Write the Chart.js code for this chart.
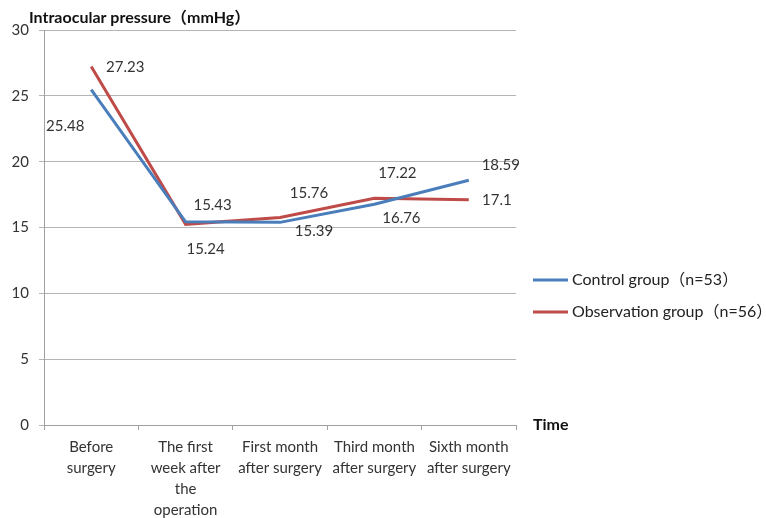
<!DOCTYPE html>
<html>
<head>
<meta charset="utf-8">
<script src="https://cdn.jsdelivr.net/npm/chart.js@4.4.1/dist/chart.umd.min.js"></script>
<style>
  html, body { margin: 0; padding: 0; background: #fff; }
  #wrap { width: 766px; height: 518px; }
</style>
</head>
<body>
<div id="wrap"><canvas id="grafico"></canvas></div>
<script>
const categorias = [
    ["Before", "surgery"],
    ["The first", "week after", "the", "operation"],
    ["First month", "after surgery"],
    ["Third month", "after surgery"],
    ["Sixth month", "after surgery"]
];
const control = [25.48, 15.43, 15.39, 16.76, 18.59];
const observacion = [27.23, 15.24, 15.76, 17.22, 17.1];
const ticksY = [0, 5, 10, 15, 20, 25, 30];
const nombres = ["Control group（n=53）", "Observation group（n=56）"];

const FUENTE = "Lato, 'Noto Sans CJK SC', sans-serif";
const AZUL = '#4a7ebb';
const ROJO = '#be4b48';

// donde va cada numero respecto a su punto (dx, dy)
const desplazControl = [[-26, 37], [27, -17], [34, 9], [27, 14], [32, -15]];
const desplazObs = [[34, 1], [20, 25], [29, -24], [23, -25], [28, 0]];

const etiquetas = {
    id: 'etiquetas',
    afterDatasetsDraw(chart) {
        const ctx = chart.ctx;
        ctx.save();
        ctx.font = '15px ' + FUENTE;
        ctx.fillStyle = '#333';
        ctx.textAlign = 'center';
        ctx.textBaseline = 'middle';
        chart.data.datasets.forEach((ds, i) => {
            chart.getDatasetMeta(i).data.forEach((pt, j) => {
                const [dx, dy] = ds.desplaz[j];
                ctx.fillText(String(ds.data[j]), pt.x + dx, pt.y + dy);
            });
        });
        ctx.restore();
    }
};

const textos = {
    id: 'textos',
    afterDraw(chart) {
        const ctx = chart.ctx;
        ctx.save();
        ctx.textBaseline = 'middle';
        ctx.textAlign = 'left';
        ctx.fillStyle = '#111';
        ctx.font = 'bold 16px ' + FUENTE;
        ctx.fillText("Intraocular pressure（mmHg）", 29, 18);
        ctx.fillText("Time", 533, 425);

        // leyenda
        ctx.font = '16px ' + FUENTE;
        chart.data.datasets.forEach((ds, i) => {
            const y = 280 + i * 32;
            ctx.strokeStyle = ds.borderColor;
            ctx.lineWidth = 3;
            ctx.beginPath();
            ctx.moveTo(533, y);
            ctx.lineTo(568, y);
            ctx.stroke();
            ctx.fillStyle = '#222';
            ctx.fillText(ds.label, 572, y);
        });
        ctx.restore();
    }
};

new Chart(document.getElementById('grafico'), {
    type: 'line',
    data: {
        labels: categorias,
        datasets: [
            { label: nombres[0], data: control, desplaz: desplazControl, borderColor: AZUL, backgroundColor: AZUL, borderWidth: 3, pointRadius: 0, tension: 0 },
            { label: nombres[1], data: observacion, desplaz: desplazObs, borderColor: ROJO, backgroundColor: ROJO, borderWidth: 3, pointRadius: 0, tension: 0 }
        ]
    },
    options: {
        responsive: true,
        maintainAspectRatio: false,
        animation: false,
        layout: { padding: { top: 30, right: 250, bottom: 0, left: 0 } },
        plugins: { legend: { display: false }, tooltip: { enabled: false } },
        scales: {
            x: {
                offset: true,
                afterFit: s => { s.height = 93; },
                grid: { offset: true, drawOnChartArea: false, drawTicks: true, tickLength: 5, color: '#a0a0a0' },
                border: { color: '#a0a0a0' },
                ticks: { color: '#333', padding: 7, maxRotation: 0, autoSkip: false, font: { family: FUENTE, size: 15, lineHeight: 1.4 } }
            },
            y: {
                min: 0,
                max: 30,
                afterFit: s => { s.width = 44; },
                afterBuildTicks: s => { s.ticks = ticksY.map(v => ({ value: v })); },
                grid: { color: '#b4b4b4', tickLength: 5 },
                border: { color: '#a0a0a0' },
                ticks: { color: '#333', padding: 10, font: { family: FUENTE, size: 15 } }
            }
        }
    },
    plugins: [etiquetas, textos]
});
</script>
</body>
</html>
